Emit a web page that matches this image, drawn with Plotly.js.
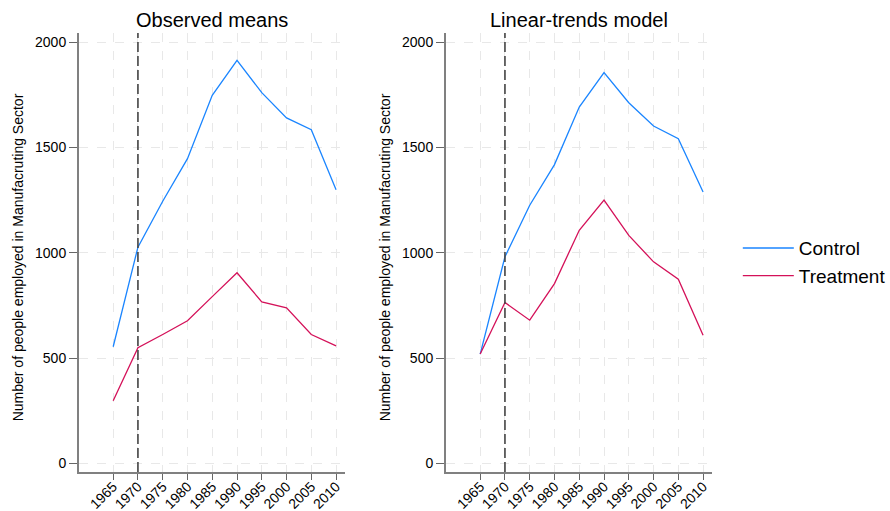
<!DOCTYPE html>
<html>
<head>
<meta charset="utf-8">
<script src="https://cdn.plot.ly/plotly-3.0.1.min.js"></script>
<style>html,body{margin:0;padding:0;background:#fff;}#chart{width:890px;height:511px;}</style>
</head>
<body>
<div id="chart"></div>
<script>
const years = [1965, 1970, 1975, 1980, 1985, 1990, 1995, 2000, 2005, 2010];
const observedControl   = [554, 1027, 1245, 1447, 1748, 1914, 1761, 1641, 1585, 1300];
const observedTreatment = [297, 549, 612, 677, 792, 905, 767, 739, 612, 558];
const modelControl      = [519, 981, 1226, 1419, 1692, 1856, 1713, 1602, 1542, 1289];
const modelTreatment    = [519, 764, 680, 854, 1107, 1250, 1083, 957, 875, 609];
const yTicks = [0, 500, 1000, 1500, 2000];
const treatmentYear = 1970;
const panelTitles = ["Observed means", "Linear-trends model"];
const yTitle = "Number of people employed in Manufacruting Sector";
const seriesNames = ["Control", "Treatment"];

const blue = "#1A85FF", red = "#D41159";
const FONT = "Liberation Sans, Arial, sans-serif";

const traces = [
  {x: years, y: observedControl, name: seriesNames[0], mode: "lines", line: {color: blue, width: 1.3}, xaxis: "x", yaxis: "y", legendgroup: "c"},
  {x: years, y: observedTreatment, name: seriesNames[1], mode: "lines", line: {color: red, width: 1.3}, xaxis: "x", yaxis: "y", legendgroup: "t"},
  {x: years, y: modelControl, name: seriesNames[0], mode: "lines", line: {color: blue, width: 1.3}, xaxis: "x2", yaxis: "y2", legendgroup: "c", showlegend: false},
  {x: years, y: modelTreatment, name: seriesNames[1], mode: "lines", line: {color: red, width: 1.3}, xaxis: "x2", yaxis: "y2", legendgroup: "t", showlegend: false}
];

function xax(domain, anchor) {
  return {
    domain: domain, anchor: anchor, range: [1958.1, 2011.8], automargin: false,
    tickmode: "array", tickvals: years, ticktext: years.map(String), tickangle: -45,
    ticks: "outside", ticklen: 6, tickcolor: "#666", tickwidth: 1, ticklabelstandoff: -7,
    showline: true, linecolor: "#808080", linewidth: 2,
    showgrid: true, gridcolor: "#e8e8e8", griddash: "dash", gridwidth: 1,
    zeroline: false, tickfont: {family: FONT, size: 14, color: "#000"}
  };
}
function yax(anchor) {
  return {
    anchor: anchor, domain: [0, 1], range: [-41, 2044], automargin: false,
    tickmode: "array", tickvals: yTicks, ticktext: yTicks.map(String),
    ticks: "outside", ticklen: 8, tickcolor: "#666", tickwidth: 1,
    showline: true, linecolor: "#808080", linewidth: 2,
    showgrid: true, gridcolor: "#e8e8e8", griddash: "dash", gridwidth: 1,
    zeroline: false, tickfont: {family: FONT, size: 14, color: "#000"}
  };
}

const dLeft = [0, 0.4202], dRight = [0.5798, 1];
const layout = {
  width: 890, height: 511,
  margin: {l: 79, r: 178, t: 33, b: 39.3},
  paper_bgcolor: "#fff", plot_bgcolor: "#fff",
  font: {family: FONT, color: "#000"},
  xaxis: xax(dLeft, "y"), yaxis: yax("x"),
  xaxis2: xax(dRight, "y2"), yaxis2: yax("x2"),
  showlegend: true,
  legend: {xref: "container", yref: "container", x: 0.829, y: 0.487, xanchor: "left", yanchor: "middle", itemwidth: 51, font: {size: 19, family: FONT}, tracegroupgap: 0, bgcolor: "rgba(0,0,0,0)"},
  shapes: [
    {type: "line", xref: "x", yref: "y domain", x0: treatmentYear, x1: treatmentYear, y0: 0, y1: 1, line: {color: "#444", width: 1.6, dash: "10px,4px"}},
    {type: "line", xref: "x2", yref: "y2 domain", x0: treatmentYear, x1: treatmentYear, y0: 0, y1: 1, line: {color: "#444", width: 1.6, dash: "10px,4px"}}
  ],
  annotations: [
    {text: panelTitles[0], xref: "paper", yref: "paper", x: (dLeft[0] + dLeft[1]) / 2, y: 1.03, xanchor: "center", yanchor: "middle", showarrow: false, font: {size: 20, family: FONT}},
    {text: panelTitles[1], xref: "paper", yref: "paper", x: (dRight[0] + dRight[1]) / 2, y: 1.03, xanchor: "center", yanchor: "middle", showarrow: false, font: {size: 20, family: FONT}},
    {text: yTitle, xref: "paper", yref: "paper", x: -0.0964, y: 0.489, xanchor: "center", yanchor: "middle", textangle: -90, showarrow: false, font: {size: 14, family: FONT}},
    {text: yTitle, xref: "paper", yref: "paper", x: 0.4834, y: 0.489, xanchor: "center", yanchor: "middle", textangle: -90, showarrow: false, font: {size: 14, family: FONT}}
  ]
};

Plotly.newPlot("chart", traces, layout, {displayModeBar: false, staticPlot: true});
</script>
</body>
</html>
